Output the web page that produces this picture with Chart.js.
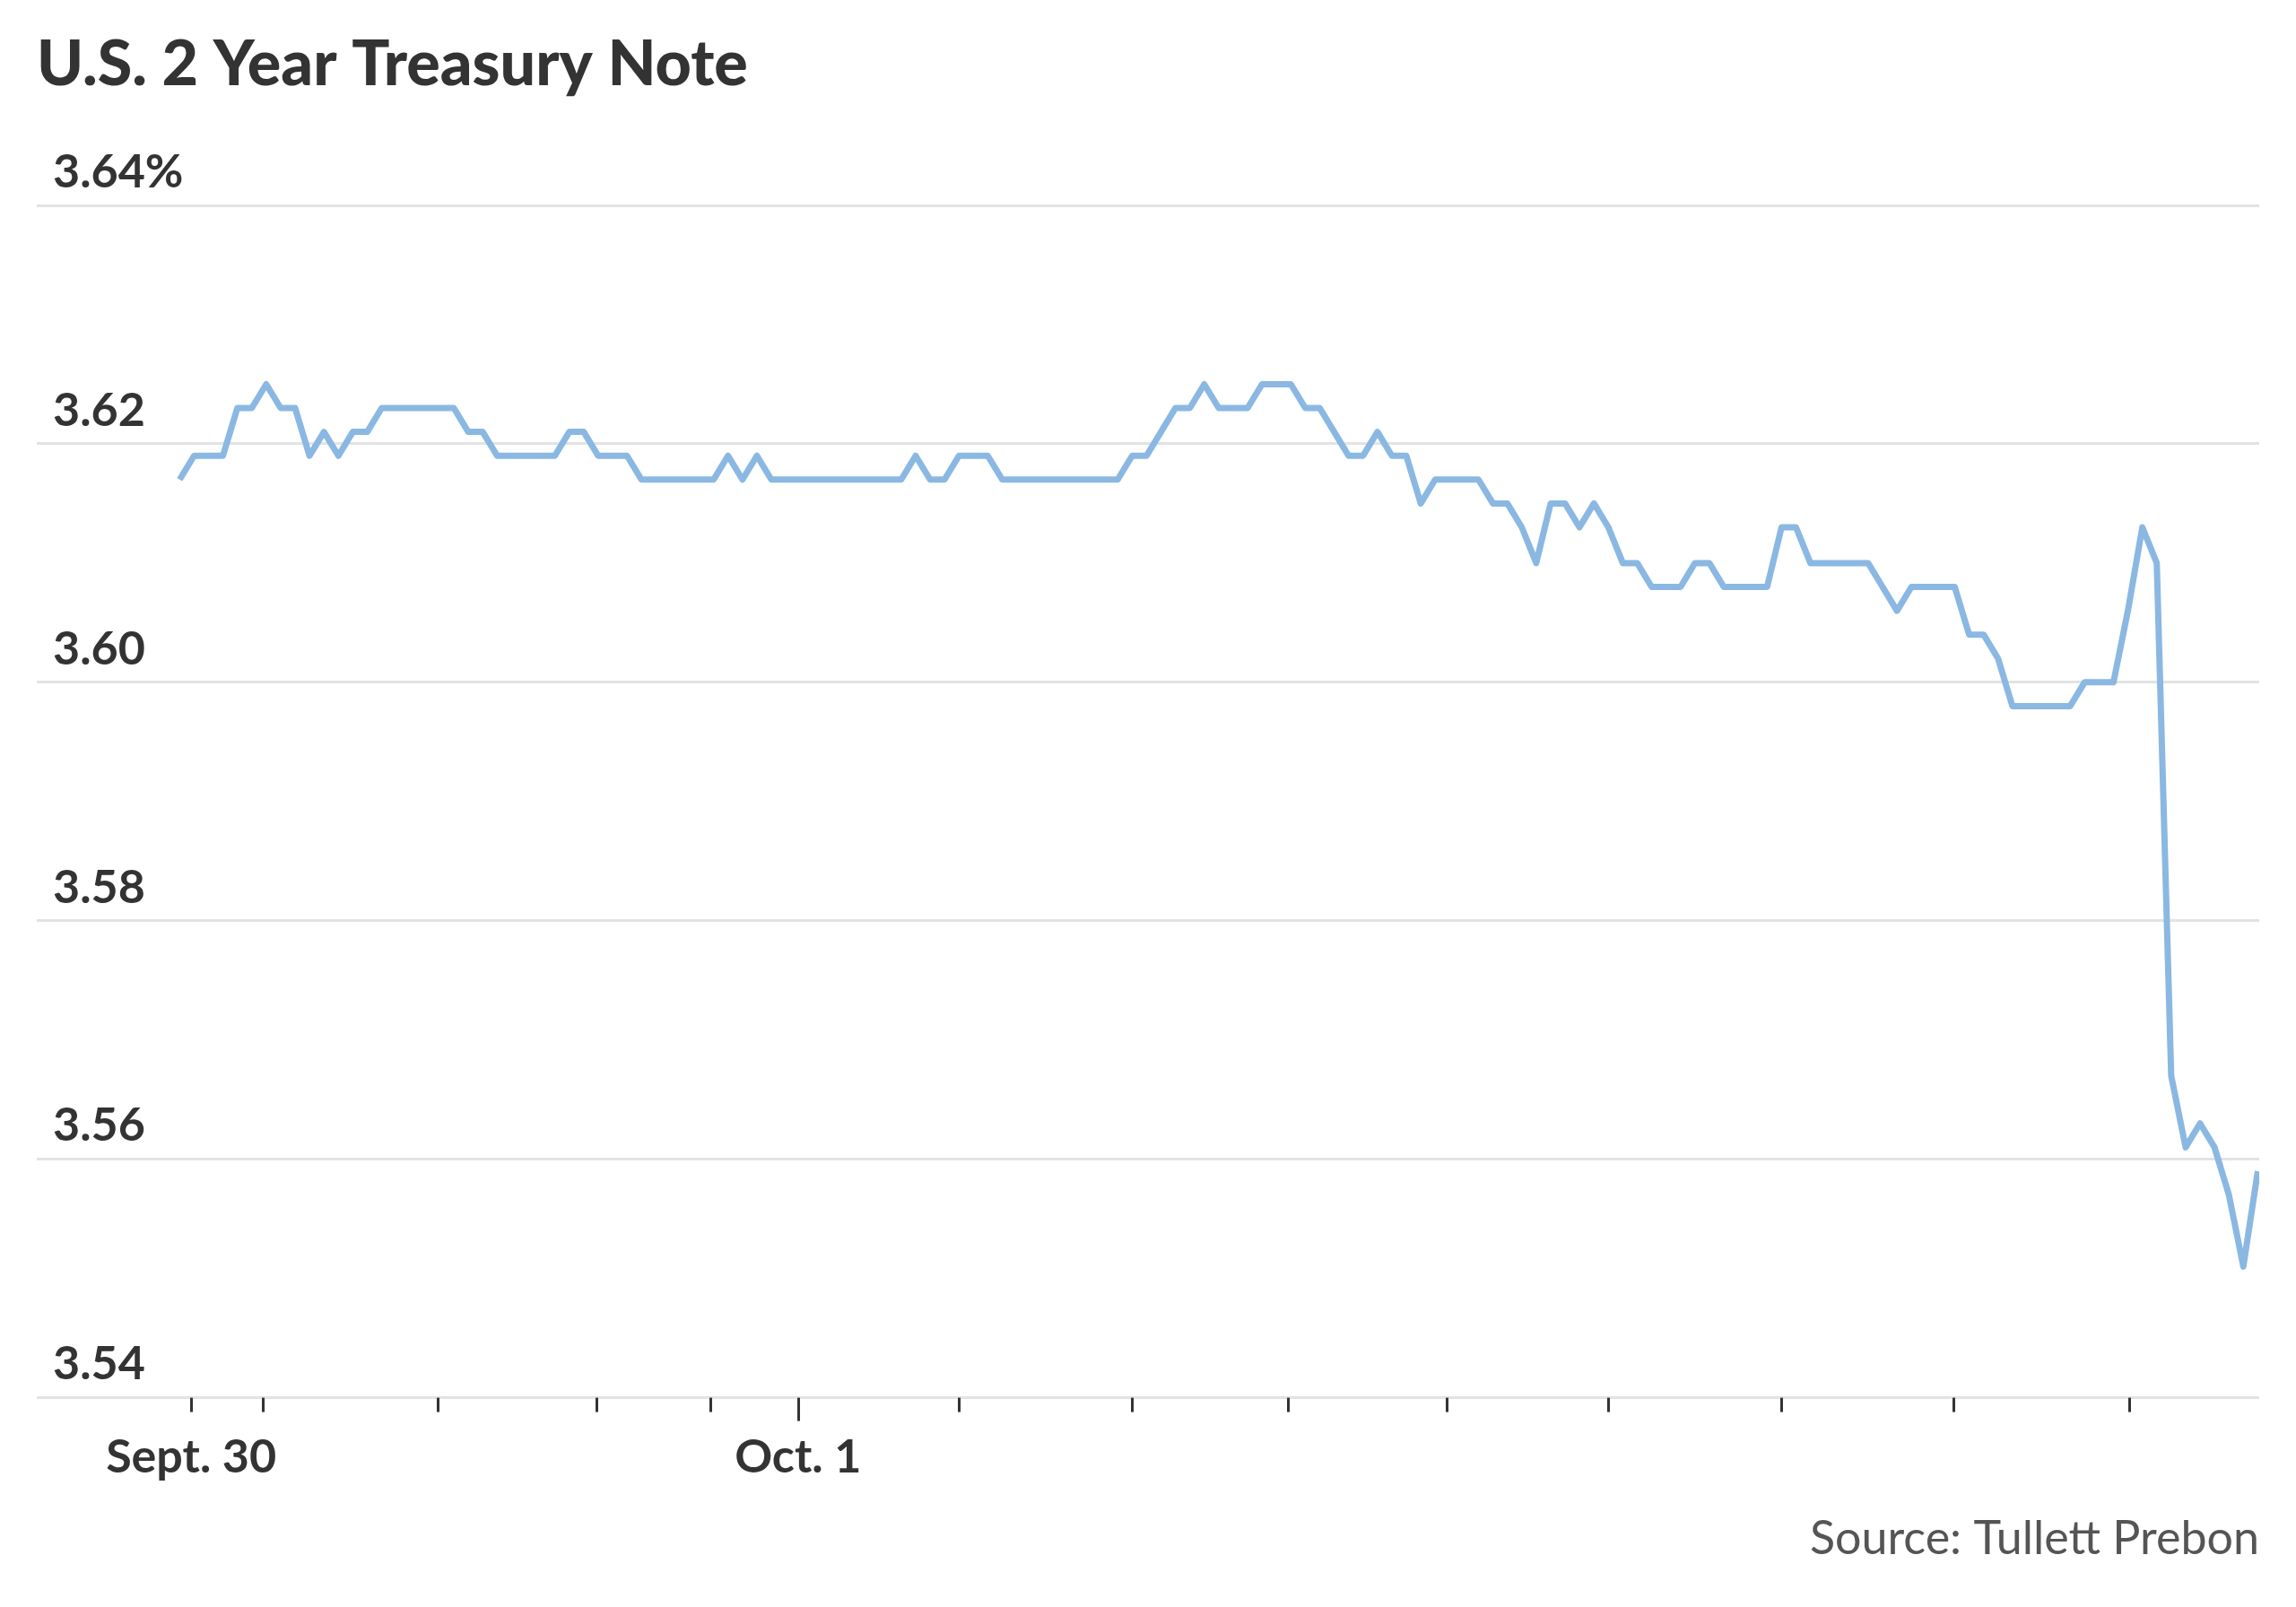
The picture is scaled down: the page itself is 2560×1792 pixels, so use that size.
<!DOCTYPE html>
<html>
<head>
<meta charset="utf-8">
<script src="https://cdn.jsdelivr.net/npm/chart.js@4.4.1/dist/chart.umd.min.js"></script>
<style>
  html, body { margin: 0; padding: 0; background: #fff; }
  #wrap { width: 2560px; height: 1792px; position: relative; }
</style>
</head>
<body>
<div id="wrap"><canvas id="chart"></canvas></div>
<script>
// 2-year yield, one reading per step (equally spaced)
const yields = [
  3.617, 3.619, 3.619, 3.619, 3.623, 3.623, 3.625, 3.623, 3.623, 3.619,
  3.621, 3.619, 3.621, 3.621, 3.623, 3.623, 3.623, 3.623, 3.623, 3.623,
  3.621, 3.621, 3.619, 3.619, 3.619, 3.619, 3.619, 3.621, 3.621, 3.619,
  3.619, 3.619, 3.617, 3.617, 3.617, 3.617, 3.617, 3.617, 3.619, 3.617,
  3.619, 3.617, 3.617, 3.617, 3.617, 3.617, 3.617, 3.617, 3.617, 3.617,
  3.617, 3.619, 3.617, 3.617, 3.619, 3.619, 3.619, 3.617, 3.617, 3.617,
  3.617, 3.617, 3.617, 3.617, 3.617, 3.617, 3.619, 3.619, 3.621, 3.623,
  3.623, 3.625, 3.623, 3.623, 3.623, 3.625, 3.625, 3.625, 3.623, 3.623,
  3.621, 3.619, 3.619, 3.621, 3.619, 3.619, 3.615, 3.617, 3.617, 3.617,
  3.617, 3.615, 3.615, 3.613, 3.610, 3.615, 3.615, 3.613, 3.615, 3.613,
  3.610, 3.610, 3.608, 3.608, 3.608, 3.610, 3.610, 3.608, 3.608, 3.608,
  3.608, 3.613, 3.613, 3.610, 3.610, 3.610, 3.610, 3.610, 3.608, 3.606,
  3.608, 3.608, 3.608, 3.608, 3.604, 3.604, 3.602, 3.598, 3.598, 3.598,
  3.598, 3.598, 3.600, 3.600, 3.600, 3.606, 3.613, 3.610, 3.567, 3.561,
  3.563, 3.561, 3.557, 3.551, 3.559
];

// hourly tick marks, given as positions along the reading index
const tickPositions = [0.8, 5.75, 17.9, 28.9, 36.8, 42.85, 54, 66, 76.8, 87.8, 99, 111, 122.9, 135.1];
const tickLabels = ['Sept. 30', '', '', '', '', 'Oct. 1', '', '', '', '', '', '', '', ''];
const majorTicks = [5];

const yTicks = [3.54, 3.56, 3.58, 3.60, 3.62, 3.64];
const yTickLabels = ['3.54', '3.56', '3.58', '3.60', '3.62', '3.64%'];

const points = yields.map((v, i) => ({ x: i, y: v }));

// short dark tick marks under the baseline, longer one at the day change
const tickMarks = {
  id: 'tickMarks',
  afterDraw(chart) {
    const { ctx, chartArea, scales: { x } } = chart;
    ctx.save();
    ctx.strokeStyle = '#333';
    ctx.lineWidth = 3;
    tickPositions.forEach((v, i) => {
      const px = Math.round(x.getPixelForValue(v)) + 0.5;
      const len = majorTicks.includes(i) ? 26 : 16;
      ctx.beginPath();
      ctx.moveTo(px, chartArea.bottom);
      ctx.lineTo(px, chartArea.bottom + len);
      ctx.stroke();
    });
    ctx.restore();
  }
};

new Chart(document.getElementById('chart'), {
  type: 'line',
  data: {
    datasets: [{
      data: points,
      borderColor: '#8ab8e2',
      borderWidth: 7,
      borderJoinStyle: 'round',
      pointRadius: 0,
      tension: 0,
      fill: false
    }]
  },
  options: {
    responsive: true,
    maintainAspectRatio: false,
    animation: false,
    layout: { padding: { left: 41, right: 41, top: 0, bottom: 0 } },
    plugins: {
      legend: { display: false },
      tooltip: { enabled: false },
      title: {
        display: true,
        text: 'U.S. 2 Year Treasury Note',
        align: 'start',
        color: '#333',
        font: { family: 'Lato', size: 70, weight: '900' },
        padding: { top: 30, bottom: 115 }
      },
      subtitle: {
        display: true,
        text: 'Source: Tullett Prebon',
        position: 'bottom',
        align: 'end',
        color: '#555',
        font: { family: 'Lato', size: 52, weight: 'normal' },
        padding: { top: 10, bottom: 45 }
      }
    },
    scales: {
      x: {
        type: 'linear',
        min: -9.9,
        max: 144.1,
        afterBuildTicks: (scale) => { scale.ticks = tickPositions.map(v => ({ value: v })); },
        afterFit: (scale) => { scale.height = 116; },
        ticks: {
          autoSkip: false,
          maxRotation: 0,
          padding: 27,
          color: '#333',
          font: { family: 'Lato', size: 52, weight: 'bold' },
          callback: (v, i) => tickLabels[i]
        },
        grid: { display: false },
        border: { display: false }
      },
      y: {
        min: 3.54,
        max: 3.64,
        afterBuildTicks: (scale) => { scale.ticks = yTicks.map(v => ({ value: v })); },
        afterFit: (scale) => { scale.width = 0; },
        ticks: {
          mirror: true,
          padding: 18,
          labelOffset: -37,
          color: '#333',
          font: { family: 'Lato', size: 52, weight: 'bold' },
          callback: (v, i) => yTickLabels[i]
        },
        grid: { color: '#e3e3e3', lineWidth: 3, drawTicks: false },
        border: { display: false }
      }
    }
  },
  plugins: [tickMarks]
});
</script>
</body>
</html>
